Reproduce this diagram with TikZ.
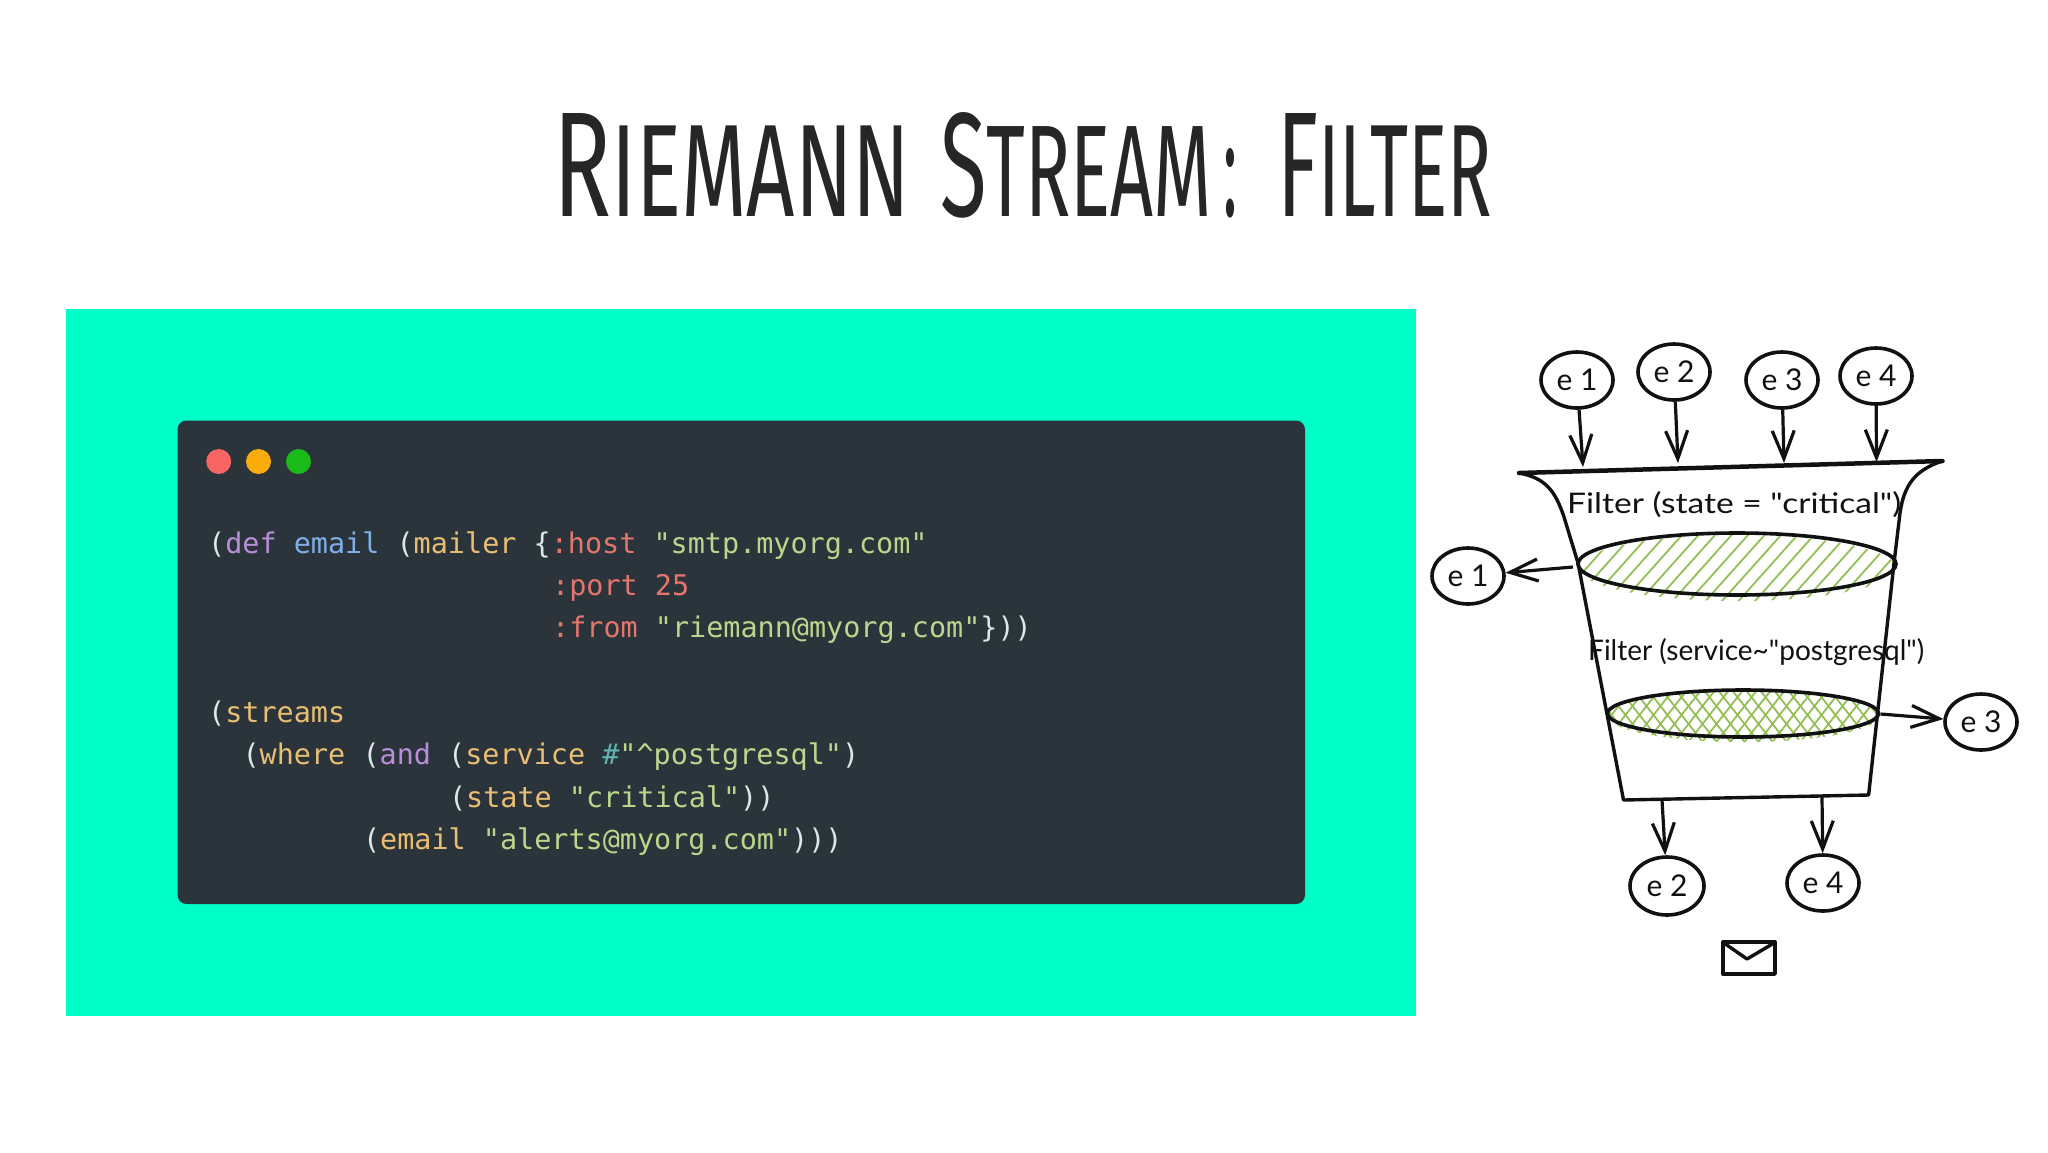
\documentclass[tikz,border=0pt]{standalone}
\usepackage{fontspec}
\usepackage{graphicx}
\usetikzlibrary{arrows.meta,shapes.geometric}
\newfontfamily\titlefont{Fira Sans}
\newfontfamily\handfont{Lato}
\newfontfamily\codefont{DejaVu Sans Mono}
\definecolor{bgmint}{HTML}{00FFC8}
\definecolor{cardc}{HTML}{2B343B}
\definecolor{inkc}{HTML}{111111}
\definecolor{hatchc}{HTML}{94BF55}
\definecolor{pn}{HTML}{DDE6EA}
\definecolor{kw}{HTML}{B78FD8}
\definecolor{fnb}{HTML}{7FAFE8}
\definecolor{yl}{HTML}{E8BE74}
\definecolor{rd}{HTML}{E4766B}
\definecolor{st}{HTML}{B9D78C}
\definecolor{te}{HTML}{5FB4B4}
\newcommand{\titleword}[4]{\resizebox{#1pt}{#2pt}{\titlefont\fontsize{150pt}{150pt}\selectfont #3\fontsize{132pt}{132pt}\selectfont #4}}
\newcommand{\cs}[2]{\textcolor{#1}{#2}}
\tikzset{
  codeline/.style={anchor=base west,inner sep=0pt,font=\fontsize{28.45pt}{30pt}\codefont,text=pn},
  titletxt/.style={anchor=base west,inner sep=0pt,text=black!85},
  evt/.style={draw=inkc,line width=3.6pt,ellipse,minimum width=72pt,minimum height=56pt,inner sep=0pt,font=\fontsize{30pt}{32pt}\handfont,text=inkc},
  flow/.style={draw=inkc,line width=3.2pt,-{Straight Barb[length=28pt,width=22pt,line width=3.2pt]},shorten >=0pt},
  inklines/.style={draw=inkc,line width=3.4pt,line join=round,line cap=round},
  dot/.style={circle,inner sep=0pt,minimum size=25pt},
  hatchline/.style={draw=hatchc,line width=1.8pt},
  filterdisc/.style={draw=inkc,line width=3.6pt,ellipse,inner sep=0pt},
  handtxt/.style={anchor=base west,inner sep=0pt,text=inkc}
}
\begin{document}
\begin{tikzpicture}[x=1pt,y=-1pt]
\useasboundingbox (0,0) rectangle (2048,1152);
\fill[white] (0,0) rectangle (2048,1152);
% title
\node[titletxt] (t1) at (553,216) {\titleword{357}{103}{R}{IEMANN}};
\node[titletxt] (t2) at (940,216) {\titleword{272}{104}{S}{TREAM}};
\node[titletxt] (t3) at (1223,216) {\resizebox{14pt}{68pt}{\titlefont :}};
\node[titletxt] (t4) at (1277,216) {\titleword{215}{103}{F}{ILTER}};
% panel
\fill[bgmint] (66,309) rectangle (1416,1016);
\fill[cardc,rounded corners=9pt] (177.5,420.5) rectangle (1305,904);
\node[dot,fill=rd!30!red!70!white] (d1) at (218.7,461.5) {};
\node[dot,fill=yellow!35!orange] (d2) at (258.5,461.5) {};
\node[dot,fill=green!70!black!90!white] (d3) at (298.5,461.5) {};
% code
\node[codeline] (c1) at (208,553) {(\cs{kw}{def} \cs{fnb}{email} (\cs{yl}{mailer} \{\cs{rd}{:host} \cs{st}{"smtp.myorg.com"}};
\node[codeline] (c2) at (552,595) {\cs{rd}{:port 25}};
\node[codeline] (c3) at (552,637) {\cs{rd}{:from} \cs{st}{"riemann@myorg.com"}\}))};
\node[codeline] (c4) at (208,722) {(\cs{yl}{streams}};
\node[codeline] (c5) at (242.4,764) {(\cs{yl}{where} (\cs{kw}{and} (\cs{yl}{service} \cs{te}{\#}\cs{st}{"\^{}postgresql"})};
\node[codeline] (c6) at (448.8,807) {(\cs{yl}{state} \cs{st}{"critical"}))};
\node[codeline] (c7) at (362.8,849) {(\cs{yl}{email} \cs{st}{"alerts@myorg.com"})))};
% hatching
\begin{scope}
\clip (1737,568) ellipse [x radius=159,y radius=33];
\foreach \i in {0,...,26}{
  \draw[hatchline] ({1540+\i*16.5},620) -- ({1540+\i*16.5+85},525);
}
\end{scope}
\begin{scope}
\clip (1743,716) ellipse [x radius=135,y radius=26];
\foreach \i in {0,...,26}{
  \draw[hatchline] ({1570+\i*14},750) -- ({1570+\i*14+55},680);
  \draw[hatchline] ({1570+\i*14},680) -- ({1570+\i*14+55},750);
}
\end{scope}
\node[filterdisc,minimum width=318pt,minimum height=62pt] (f1) at (1737,564) {};
\node[filterdisc,minimum width=271pt,minimum height=47pt] (f2) at (1743,713.5) {};
% funnel
\draw[inklines,line width=4.5pt] (1519,473) -- (1942.5,461);
\draw[inklines] (1519,473) .. controls (1545,478) and (1555,490) .. (1564,517) -- (1578,563) -- (1623.5,800) -- (1868.6,795) -- (1894,563) -- (1900,513) .. controls (1904,485) and (1915,470) .. (1942.5,461);
% funnel labels
\node[handtxt] (l1) at (1567,513) {\resizebox{334pt}{22pt}{\handfont Filter (state = "critical")}};
\node[handtxt] (l2) at (1588,660) {\resizebox{336pt}{22pt}{\handfont Filter (service\textasciitilde"postgresql")}};
% events in
\node[evt] (e1t) at (1577,380) {e 1};
\node[evt] (e2t) at (1674,372) {e 2};
\node[evt] (e3t) at (1782,380) {e 3};
\node[evt] (e4t) at (1876,376) {e 4};
\coordinate (r1) at (1583,467);
\coordinate (r2) at (1678,463);
\coordinate (r3) at (1784,463);
\coordinate (r4) at (1876.5,462);
\draw[flow] (e1t) -- (r1);
\draw[flow] (e2t) -- (r2);
\draw[flow] (e3t) -- (r3);
\draw[flow] (e4t) -- (r4);
% events out
\node[evt] (e1o) at (1468,576) {e 1};
\node[evt] (e3o) at (1981,722) {e 3};
\node[evt,minimum width=74pt,minimum height=58pt] (e2o) at (1667,886) {e 2};
\node[evt] (e4o) at (1823,883) {e 4};
\coordinate (s1) at (1573,567);
\coordinate (s3) at (1880.5,714);
\coordinate (s2) at (1662,800);
\coordinate (s4) at (1822,797);
\draw[flow] (s1) -- (e1o);
\draw[flow] (s3) -- (e3o);
\draw[flow] (s2) -- (e2o);
\draw[flow] (s4) -- (e4o);
% envelope
\draw[inklines] (1723,942) rectangle (1775,974);
\draw[inklines] (1724,943) -- (1747,959) -- (1774,943);
\end{tikzpicture}
\end{document}
